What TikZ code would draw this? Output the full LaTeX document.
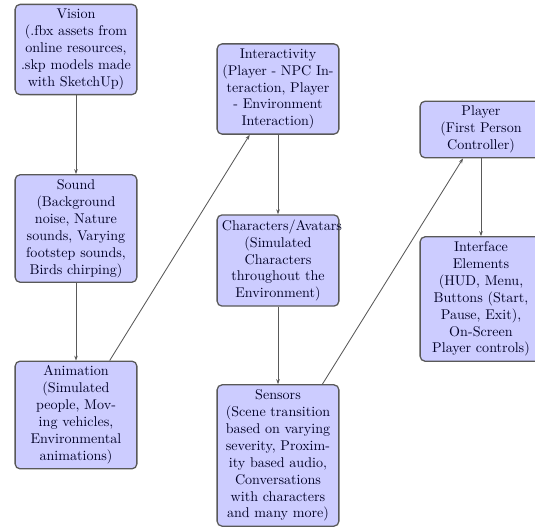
\documentclass[tikz,border=0pt]{standalone}
\usetikzlibrary{arrows.meta}
\begin{document}
\begin{tikzpicture}[x=0.709pt,y=-0.709pt,
  box/.style={draw=black!65, line width=0.9pt, fill=blue!20, rounded corners=3.5pt,
    text width=2.8cm, align=center, inner sep=3.33pt, text=black!85!blue},
  conn/.style={-{Stealth[length=3.5pt,width=2.5pt]}, draw=black!65, line width=0.6pt}]
\fill[white] (0,0) rectangle (535,527);
\useasboundingbox (0,0) rectangle (535,527);
\node[box] (vision) at (76,49.5) {Vision\\(.fbx assets from\\online resources,\\.skp models made\\with SketchUp)};
\node[box] (sound) at (76,228.5) {Sound\\(Background\\noise, Nature\\sounds, Varying\\footstep sounds,\\Birds chirping)};
\node[box] (anim) at (76,415) {Animation\\(Simulated\\people, Mov-\\ing vehicles,\\Environmental\\animations)};
\node[box] (inter) at (278,89) {Interactivity\\(Player - NPC In-\\teraction, Player\\- Environment\\Interaction)};
\node[box] (chars) at (278,260.5) {Characters/Avatars\\(Simulated\\Characters\\throughout the\\Environment)};
\node[box] (sens) at (278,455.5) {Sensors\\(Scene transition\\based on varying\\severity, Proxim-\\ity based audio,\\Conversations\\with characters\\and many more)};
\node[box] (player) at (481,129.5) {Player\\(First Person\\Controller)};
\node[box] (iface) at (481,299) {Interface\\Elements\\(HUD, Menu,\\Buttons (Start,\\Pause, Exit),\\On-Screen\\Player controls)};
\draw[conn] (vision) -- (sound);
\draw[conn] (sound) -- (anim);
\draw[conn] (anim) -- (inter);
\draw[conn] (inter) -- (chars);
\draw[conn] (chars) -- (sens);
\draw[conn] (sens) -- (player);
\draw[conn] (player) -- (iface);
\end{tikzpicture}
\end{document}
